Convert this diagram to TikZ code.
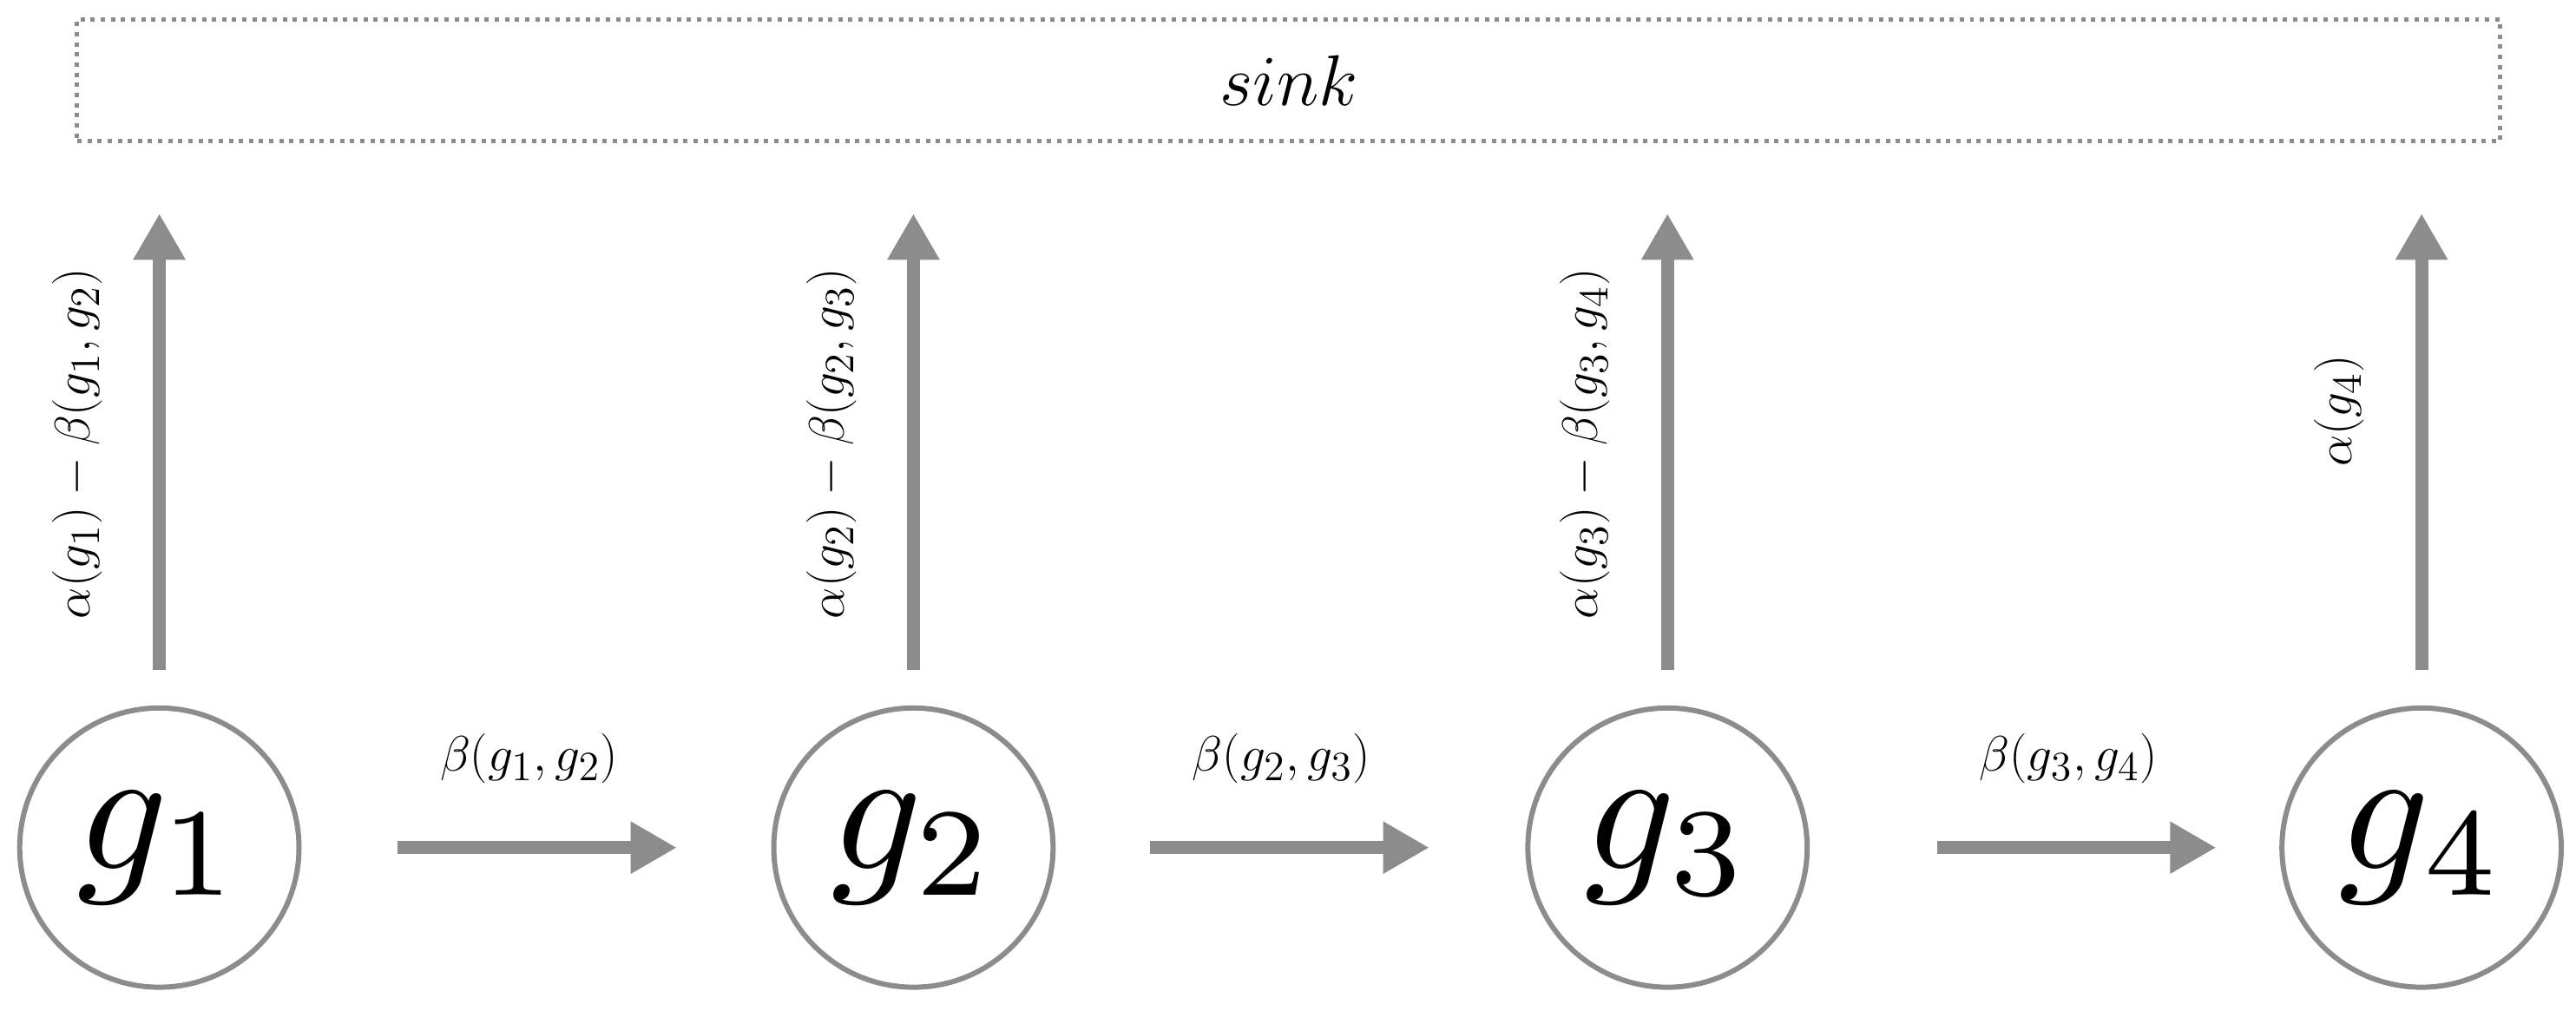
\documentclass[tikz,border=0pt]{standalone}
\usepackage{graphicx}
\usetikzlibrary{arrows.meta}
\begin{document}
\begin{tikzpicture}[x=0.02cm,y=-0.02cm,
  gnode/.style={circle,draw=black!45,line width=1.8pt,minimum size={170*0.02cm},inner sep=0pt},
  arr/.style={draw=black!45,line width=4.5pt,-{Triangle[length=16pt,width=17pt]}},
  lab/.style={font=\fontsize{19}{22}\selectfont}]
\useasboundingbox (0,0) rectangle (1568,615);
\node[draw=black!45,dotted,line width=1.5pt,minimum width={1475*0.02cm},minimum height={74*0.02cm},font=\fontsize{23}{26}\selectfont] (sink) at (784.5,49) {$sink$};
\foreach \i/\x in {1/97,2/556,3/1015,4/1474}{
  \node[gnode] (g\i) at (\x,516) {\scalebox{6.2}{$g_\i$}};
  \coordinate (b\i) at (\x,408);
  \coordinate (t\i) at (\x,130);
  \draw[arr] (b\i) -- (t\i);
}
\node[lab,rotate=90] at (47,270) {$\alpha(g_1)-\beta(g_1,g_2)$};
\node[lab,rotate=90] at (506,270) {$\alpha(g_2)-\beta(g_2,g_3)$};
\node[lab,rotate=90] at (965,270) {$\alpha(g_3)-\beta(g_3,g_4)$};
\node[lab,rotate=90] at (1424,250) {$\alpha(g_4)$};
\foreach \a/\b/\s in {242/412/{\beta(g_1,g_2)},700/870/{\beta(g_2,g_3)},1179/1349/{\beta(g_3,g_4)}}{
  \coordinate (s) at (\a,516); \coordinate (e) at (\b,516);
  \draw[arr] (s) -- (e);
  \node[lab] at ({(\a+\b)/2-5},462) {$\s$};
}
\end{tikzpicture}
\end{document}
